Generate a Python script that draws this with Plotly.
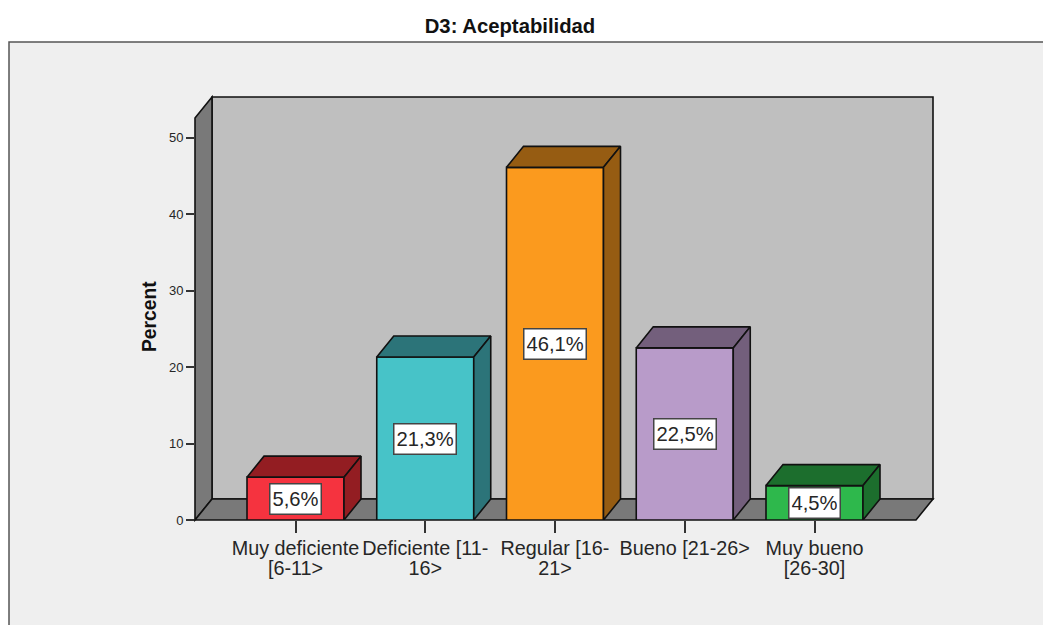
import plotly.graph_objects as go

# ---- data ----
title = "D3: Aceptabilidad"
y_title = "Percent"
line1 = ["Muy deficiente", "Deficiente [11-", "Regular [16-", "Bueno [21-26>", "Muy bueno"]
line2 = ["[6-11>", "16>", "21>", " ", "[26-30]"]
values = [5.6, 21.3, 46.1, 22.5, 4.5]
front_colors = ["#F5333F", "#47C3C8", "#FB9A1E", "#B89BC9", "#2EB84C"]
dark_colors = ["#931D22", "#2C7479", "#965C12", "#735F7C", "#1C6E2D"]
y_ticks = [0, 10, 20, 30, 40, 50]

# ---- layout geometry (pixels in the 1043x625 frame) ----
W, H = 1043, 625
L, R, T, B = 195, 933, 97, 520     # plot box
PX_X, C0 = 129.75, 295.5           # px per category, px of first category
PX_Y = 7.65                        # px per percent
DX, DY = 17 / PX_X, 21 / PX_Y      # 3-D depth in axis units
BW = 97 / PX_X                     # bar width in axis units
X_RANGE = [(L - C0) / PX_X, (R - C0) / PX_X]
Y_RANGE = [0, (B - T) / PX_Y]
INK = "#111111"
TXT = "#262626"
FONT = "Liberation Sans, Arial, sans-serif"

xs = list(range(len(values)))
fig = go.Figure()

# front faces
fig.add_trace(go.Bar(
    x=xs, y=values, width=BW, marker=dict(color=front_colors, line=dict(color=INK, width=1.6)),
    hoverinfo="skip", showlegend=False))

# top and side faces derived from each value
for x, v, c in zip(xs, values, dark_colors):
    a, b = x - BW / 2, x + BW / 2
    fig.add_trace(go.Scatter(
        x=[a, a + DX, b + DX, b, a], y=[v, v + DY, v + DY, v, v],
        mode="lines", fill="toself", fillcolor=c, line=dict(color=INK, width=1.6),
        hoverinfo="skip", showlegend=False))
    fig.add_trace(go.Scatter(
        x=[b, b + DX, b + DX, b, b], y=[v, v + DY, DY, 0, v],
        mode="lines", fill="toself", fillcolor=c, line=dict(color=INK, width=1.6),
        hoverinfo="skip", showlegend=False))

# invisible carriers so the extra tick axes are drawn
for ax in ("x2", "x3"):
    fig.add_trace(go.Scatter(x=xs, y=values, xaxis=ax, mode="markers", marker=dict(opacity=0),
                             hoverinfo="skip", showlegend=False))

# value labels
for x, v in zip(xs, values):
    fig.add_annotation(
        x=x, y=v / 2, xref="x", yref="y", text=f"{v:.1f}%".replace(".", ","), showarrow=False,
        font=dict(family=FONT, size=20.2, color=TXT), bgcolor="#FFFFFF", height=25,
        bordercolor="#444444", borderwidth=1.5, borderpad=2)


def px(xp):
    return (xp - L) / (R - L)


def py(yp):
    return (B - yp) / (B - T)


# y axis title, centred where the reference has it
fig.add_annotation(
    x=px(149), y=py(317), xref="paper", yref="paper", text=f"<b>{y_title}</b>", textangle=-90,
    showarrow=False, xanchor="center", yanchor="middle",
    font=dict(family=FONT, size=19.3, color="#111111"))

shapes = [dict(type="rect", xref="paper", yref="paper", layer="below",
               x0=px(9), x1=px(W + 40), y0=py(42), y1=py(H + 40),
               fillcolor="#EFEFEF", line=dict(color="#555555", width=1.5))]


def poly(pts, fill):
    d = "M " + " L ".join(f"{px(a):.5f},{py(b):.5f}" for a, b in pts) + " Z"
    return dict(type="path", xref="paper", yref="paper", layer="below", path=d,
                fillcolor=fill, line=dict(color=INK, width=1.6))


shapes.append(poly([(212, 97), (933, 97), (933, 499), (212, 499)], "#BFBFBF"))
shapes.append(poly([(195, 118), (212, 97), (212, 499), (195, 520)], "#797979"))
shapes.append(poly([(195, 520), (212, 499), (933, 499), (916, 520)], "#797979"))

fig.update_layout(
    width=W, height=H, autosize=False,
    margin=dict(l=L, r=W - R, t=T, b=H - B, pad=0),
    paper_bgcolor="#FFFFFF", plot_bgcolor="rgba(0,0,0,0)",
    font=dict(family=FONT, color=TXT),
    showlegend=False, shapes=shapes,
    title=dict(text=f"<b>{title}</b>", x=510 / W, xanchor="center", y=1 - 26 / H, yanchor="middle",
               font=dict(family=FONT, size=20.3, color="#111111")),
    xaxis=dict(range=X_RANGE, tickmode="array", tickvals=xs, ticktext=line1, tickangle=0,
               ticks="outside", ticklen=10, tickwidth=1, tickcolor="rgba(0,0,0,0)",
               tickfont=dict(family=FONT, size=19.8, color=TXT),
               showgrid=False, zeroline=False, showline=False, fixedrange=True),
    xaxis2=dict(range=X_RANGE, overlaying="x", anchor="y", side="bottom",
                tickmode="array", tickvals=xs, ticktext=line2, tickangle=0,
                ticks="outside", ticklen=30, tickwidth=1, tickcolor="rgba(0,0,0,0)",
                tickfont=dict(family=FONT, size=19.8, color=TXT),
                showgrid=False, zeroline=False, showline=False, fixedrange=True),
    xaxis3=dict(range=X_RANGE, overlaying="x", anchor="y", side="bottom",
                tickmode="array", tickvals=xs, showticklabels=False,
                ticks="outside", ticklen=12, tickwidth=1.5, tickcolor="#333333",
                showgrid=False, zeroline=False, showline=False, fixedrange=True),
    yaxis=dict(range=Y_RANGE, tickmode="array", tickvals=y_ticks,
               ticks="outside", ticklen=8, tickwidth=1.5, tickcolor="#333333",
               tickfont=dict(family=FONT, size=13, color=TXT),
               showgrid=False, zeroline=False, showline=False, fixedrange=True),
)

fig.write_html("out.html", config=dict(displayModeBar=False),
               post_script="document.body.style.margin='0';document.body.style.overflow='hidden';")
